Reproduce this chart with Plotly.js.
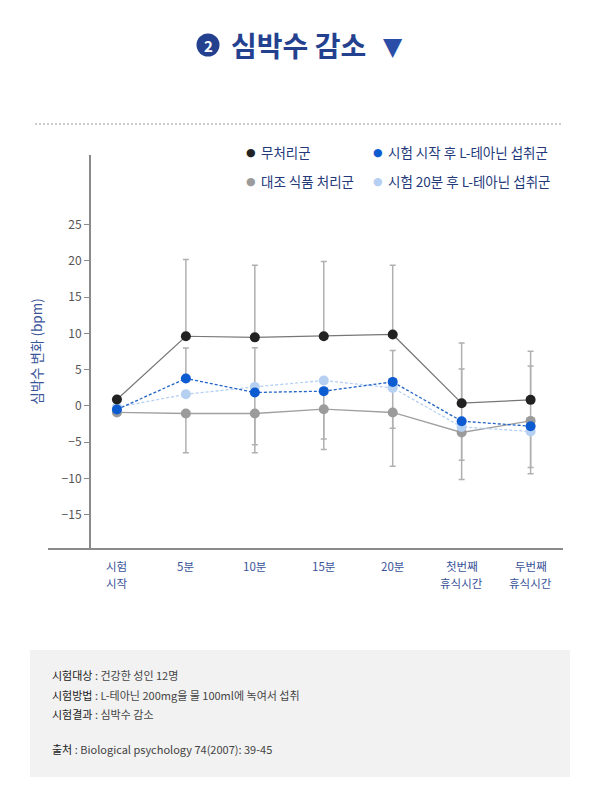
<!DOCTYPE html>
<html><head><meta charset="utf-8">
<script src="https://cdn.plot.ly/plotly-3.0.1.min.js"></script>
<style>html,body{margin:0;padding:0;background:#fff;}#chart{width:592px;height:788px;}</style>
</head><body><div id="chart"></div>
<script>
const categories = ["시험<br>시작","5분","10분","15분","20분","첫번째<br>휴식시간","두번째<br>휴식시간"];
const seriesNames = ["무처리군","시험 시작 후 L-테아닌 섭취군","대조 식품 처리군","시험 20분 후 L-테아닌 섭취군"];
const noTreat      = [0.88, 9.6, 9.45, 9.6, 9.85, 0.37, 0.83];
const theanineStart= [-0.5, 3.78, 1.85, 2.03, 3.31, -2.11, -2.8];
const control      = [-0.9, -1.05, -1.05, -0.46, -0.91, -3.67, -2.07];
const theanine20   = [-0.2, 1.61, 2.62, 3.5, 2.48, -2.9, -3.53];
const noTreatErrUp       = [0, 10.6, 9.95, 10.3, 9.55, 8.3, 6.7];
const controlErrDown     = [0, 5.43, 5.43, 5.54, 7.4, 6.5, 7.3];
const theanineStartErrUp = [0, 4.2, 6.15, 0, 4.33, 7.2, 8.3];
const theanineStartErrDn = [0, 0, 7.2, 6.6, 6.4, 5.4, 5.7];
const yTicks = [-15,-10,-5,0,5,10,15,20,25];
const infoLines = [
  ["시험대상", " : 건강한 성인 12명"],
  ["시험방법", " : L-테아닌 200mg을 물 100ml에 녹여서 섭취"],
  ["시험결과", " : 심박수 감소"],
  ["출처", " : Biological psychology 74(2007): 39-45"]
];

const W=592,H=788, L=48, R=29, T=155, B=240;
const pw=W-L-R, ph=H-T-B;
const px = x => (x-L)/pw;
const py = y => (H-B-y)/ph;
const FONT = "Noto Sans CJK KR, Noto Sans, sans-serif";
const NAVY = "#24418f";
const colors = {black:"#222222", dblue:"#0d5bd0", gray:"#9b9b9b", lblue:"#b6d0f2"};
const errStyle = {color:"#b0b0b0", thickness:1.5, width:3};

const traces = [];
traces.push({x:categories, y:noTreat, mode:"none", type:"scatter", showlegend:false, hoverinfo:"skip",
  error_y:Object.assign({type:"data", symmetric:false, array:noTreatErrUp, arrayminus:noTreat.map(()=>0)}, errStyle)});
traces.push({x:categories, y:control, mode:"none", type:"scatter", showlegend:false, hoverinfo:"skip",
  error_y:Object.assign({type:"data", symmetric:false, array:control.map(()=>0), arrayminus:controlErrDown}, errStyle)});
traces.push({x:categories, y:theanineStart, mode:"none", type:"scatter", showlegend:false, hoverinfo:"skip",
  error_y:Object.assign({type:"data", symmetric:false, array:theanineStartErrUp, arrayminus:theanineStartErrDn}, errStyle)});
traces.push({x:categories, y:control, name:seriesNames[2], mode:"lines+markers", type:"scatter",
  line:{color:"#a0a0a0", width:1.3}, marker:{color:colors.gray, size:10}});
traces.push({x:categories, y:theanine20, name:seriesNames[3], mode:"lines+markers", type:"scatter",
  line:{color:colors.lblue, width:1.3, dash:"3px,2px"}, marker:{color:colors.lblue, size:10}});
traces.push({x:categories, y:theanineStart, name:seriesNames[1], mode:"lines+markers", type:"scatter",
  line:{color:"#2163c6", width:1.3, dash:"3px,2px"}, marker:{color:colors.dblue, size:10}});
traces.push({x:categories, y:noTreat, name:seriesNames[0], mode:"lines+markers", type:"scatter",
  line:{color:"#777777", width:1.2}, marker:{color:colors.black, size:10}});

const annotations = [];
const shapes = [];
// title
shapes.push({type:"circle", xref:"paper", yref:"paper", x0:px(196.5), x1:px(219.5), y0:py(56.5), y1:py(33.5), fillcolor:"#24418f", line:{width:0}});
annotations.push({xref:"paper", yref:"paper", x:px(208), y:py(45.5), text:"<b>2</b>", showarrow:false, font:{family:FONT, size:15, color:"#fff"}, xanchor:"center", yanchor:"middle"});
annotations.push({xref:"paper", yref:"paper", x:px(229), y:py(45), text:"<b>심박수 감소</b>", showarrow:false, font:{family:FONT, size:28, color:NAVY}, xanchor:"left", yanchor:"middle"});
annotations.push({xref:"paper", yref:"paper", x:px(393), y:py(46), text:"▼", showarrow:false, font:{family:"DejaVu Sans", size:25, color:"#2a4ea8"}, xanchor:"center", yanchor:"middle"});
// dashed separator
shapes.push({type:"line", xref:"paper", yref:"paper", x0:px(35), x1:px(562), y0:py(124), y1:py(124), line:{color:"#9a9a9a", width:1, dash:"2px,2px"}});
// legend
const leg = [[251,152,colors.black,seriesNames[0]],[378,152,colors.dblue,seriesNames[1]],[251,181,colors.gray,seriesNames[2]],[378,181,colors.lblue,seriesNames[3]]];
leg.forEach(l=>{
  annotations.push({xref:"paper", yref:"paper", x:px(l[0]), y:py(l[1]), text:"●", showarrow:false, font:{family:"DejaVu Sans", size:11, color:l[2]}, xanchor:"center", yanchor:"middle"});
  annotations.push({xref:"paper", yref:"paper", x:px(l[0]+8), y:py(l[1]), text:l[3], showarrow:false, font:{family:FONT, size:13.5, color:"#23397a"}, xanchor:"left", yanchor:"middle"});
});
// x category labels (one annotation per text line, placed on the category axis)
categories.forEach(c=>{
  c.split("<br>").forEach((part,j)=>{
    annotations.push({xref:"x", yref:"paper", x:c, y:py(566+17*j), text:part, showarrow:false, borderpad:0,
      font:{family:FONT, size:11.5, color:"#3a5499"}, xanchor:"center", yanchor:"middle"});
  });
});
// info box
shapes.push({type:"rect", xref:"paper", yref:"paper", x0:px(30), x1:px(570), y0:py(777), y1:py(650), fillcolor:"#f2f2f2", line:{width:0}, layer:"below"});
const infoY = [675, 695, 714, 749];
infoLines.forEach((ln,i)=>{
  annotations.push({xref:"paper", yref:"paper", x:px(50), y:py(infoY[i]), text:"<span style='color:#222'>"+ln[0]+"</span>"+ln[1], showarrow:false, font:{family:FONT, size:11, color:"#444"}, xanchor:"left", yanchor:"middle"});
});

const layout = {
  width:W, height:H, margin:{l:L, r:R, t:T, b:B}, paper_bgcolor:"#fff", plot_bgcolor:"#fff",
  showlegend:false, font:{family:FONT},
  xaxis:{type:"category", range:[-1, 6.47], showgrid:false, zeroline:false, showline:true, linecolor:"#8a8a8a", linewidth:1.5,
    showticklabels:false, ticks:"", fixedrange:true},
  yaxis:{range:[-19.6, 34.6], anchor:"free", position:px(89), tickvals:yTicks, showgrid:false, zeroline:false, showline:true,
    linecolor:"#8a8a8a", linewidth:1.5, ticks:"outside", ticklen:5, tickcolor:"#8a8a8a", tickwidth:1,
    tickfont:{family:FONT, size:12, color:"#555"},
    title:{text:"심박수 변화 (bpm)", font:{family:FONT, size:13.5, color:"#3a5499"}, standoff:14}},
  shapes:shapes, annotations:annotations
};
Plotly.newPlot("chart", traces, layout, {displayModeBar:false, staticPlot:true});
</script></body></html>
